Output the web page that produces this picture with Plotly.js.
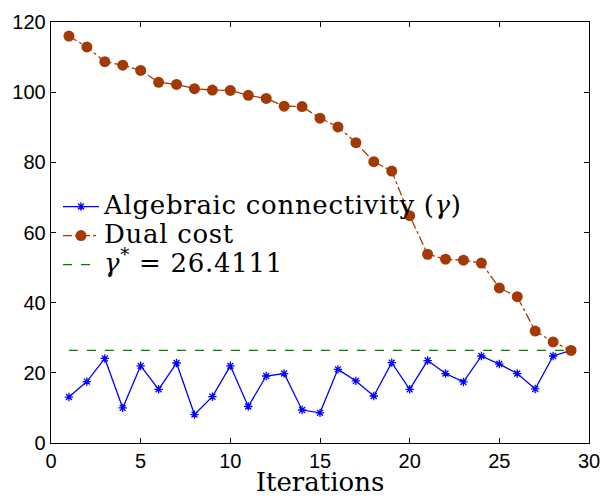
<!DOCTYPE html>
<html><head><meta charset="utf-8">
<script src="https://cdn.plot.ly/plotly-3.0.1.min.js"></script>
<style>html,body{margin:0;padding:0;background:#fff}#plot{width:603px;height:497px}</style>
</head><body><div id="plot"></div>
<script>
const iterations = [1,2,3,4,5,6,7,8,9,10,11,12,13,14,15,16,17,18,19,20,21,22,23,24,25,26,27,28,29];
const algebraicConnectivity = [13.1,17.5,24.1,10.0,22.0,15.3,22.8,8.1,13.2,22.0,10.4,19.1,19.8,9.4,8.6,21.0,17.7,13.4,22.9,15.3,23.5,19.8,17.4,24.8,22.5,19.8,15.4,24.8,26.4];
const dualCost = [116.0,112.9,108.7,107.7,106.2,102.8,102.2,101.0,100.6,100.5,99.1,98.2,96.0,95.9,92.6,90.1,85.6,80.2,77.5,64.8,53.8,52.4,52.1,51.3,44.2,41.7,31.9,28.8,26.4];
const gammaStar = 26.4111;
const gammaX = [1, 29];
const xTicks = [0,5,10,15,20,25,30];
const yTicks = [0,20,40,60,80,100,120];
const seriesNames = ['Algebraic connectivity (<i>γ</i>)', 'Dual cost', '<i>γ</i><sup>*</sup> = 26.4111'];

const serif = "DejaVu Serif, Liberation Serif, serif";
const sans = "Liberation Sans, Arial, sans-serif";
const wrap = s => '<span style="font-size:26px;letter-spacing:0.7px">' + s + '</span>';

const traces = [
  {x: iterations, y: algebraicConnectivity, name: wrap(seriesNames[0]), mode: 'lines+markers',
   line: {color: '#0000ff', width: 1.3}, marker: {symbol: 'asterisk-open', size: 7, color: '#0000ff', line: {color: '#0000ff', width: 1.3}}},
  {x: iterations, y: dualCost, name: wrap(seriesNames[1]), mode: 'lines+markers',
   line: {color: '#a33a06', width: 1.3, dash: 'dashdot'}, marker: {symbol: 'circle', size: 11, color: '#a33a06'}},
  {x: gammaX, y: [gammaStar, gammaStar], name: wrap(seriesNames[2]), mode: 'lines',
   line: {color: '#008000', width: 1.3, dash: 'dash'}}
];

const axisCommon = {
  showgrid: false, zeroline: false, showline: true, mirror: 'ticks', linecolor: '#000', linewidth: 1.3,
  ticks: 'inside', ticklen: 5, tickcolor: '#000', tickwidth: 1,
  tickfont: {family: sans, size: 20, color: '#000'}
};

const layout = {
  width: 603, height: 497,
  margin: {l: 51, r: 14, t: 22, b: 54},
  paper_bgcolor: '#fff', plot_bgcolor: '#fff',
  showlegend: true,
  legend: {x: 0.013, y: 0.608, xanchor: 'left', yanchor: 'top', bgcolor: 'rgba(0,0,0,0)',
           font: {family: serif, size: 20, color: '#000'}, tracegroupgap: 0, itemwidth: 36},
  xaxis: Object.assign({}, axisCommon, {range: [0, 30], tickvals: xTicks, ticktext: xTicks.map(String),
    title: {text: 'Iterations', font: {family: serif, size: 26, color: '#000'}, standoff: 7}}),
  yaxis: Object.assign({}, axisCommon, {range: [0, 120], tickvals: yTicks, ticktext: yTicks.map(String)})
};

Plotly.newPlot('plot', traces, layout, {displayModeBar: false, staticPlot: true});
</script></body></html>
